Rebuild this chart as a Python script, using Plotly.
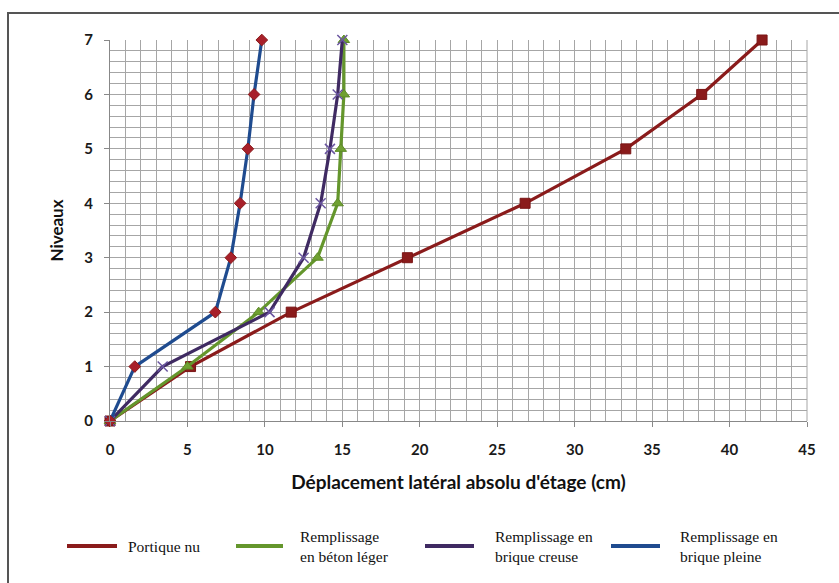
import plotly.graph_objects as go

# Storey levels and absolute lateral displacement (cm) per structural variant
niveaux = [0, 1, 2, 3, 4, 5, 6, 7]
portique_nu = [0, 5.2, 11.7, 19.2, 26.8, 33.3, 38.2, 42.1]
beton_leger = [0, 5.0, 9.6, 13.4, 14.7, 14.9, 15.1, 15.1]
brique_creuse = [0, 3.4, 10.3, 12.5, 13.6, 14.2, 14.7, 15.0]
brique_pleine = [0, 1.6, 6.8, 7.8, 8.4, 8.9, 9.3, 9.8]

noms = ["Portique nu", "Remplissage<br>en béton léger",
        "Remplissage en<br>brique creuse", "Remplissage en<br>brique pleine"]
x_ticks = [0, 5, 10, 15, 20, 25, 30, 35, 40, 45]
y_ticks = [0, 1, 2, 3, 4, 5, 6, 7]

W, H = 839, 583
L, R, T, B = 110, 807, 40, 421


def px(xp):
    return (xp - L) / (R - L)


def py(yp):
    return (B - yp) / (B - T)


series = [
    dict(x=portique_nu, line="#8a1b1b", symbol="square", size=10,
         fill="#8a1b1b", mline="#7a1515", mw=1),
    dict(x=beton_leger, line="#64962c", symbol="triangle-up", size=10,
         fill="#6fa032", mline="#5d8a28", mw=1),
    dict(x=brique_creuse, line="#3f2a62", symbol="x-thin", size=10,
         fill="#6a55a0", mline="#6a55a0", mw=1.5),
    dict(x=brique_pleine, line="#1f4b8f", symbol="diamond", size=9,
         fill="#a8202a", mline="#8a1b1b", mw=1),
]

fig = go.Figure()
for s, nom in zip(series, noms):
    fig.add_trace(go.Scatter(
        x=s["x"], y=niveaux, mode="lines+markers", name=nom.replace("<br>", " "),
        line=dict(color=s["line"], width=3.2),
        marker=dict(symbol=s["symbol"], size=s["size"], color=s["fill"],
                    line=dict(color=s["mline"], width=s["mw"])),
        cliponaxis=False, showlegend=False,
    ))

grid = "#a6a6a6"
tick_font = dict(family="Lato", size=15, color="#1a1a1a", weight="bold")
fig.update_xaxes(
    range=[0, 45], tickvals=x_ticks, ticks="outside", ticklen=5, tickcolor="#888",
    showline=True, linecolor="#888", linewidth=1, mirror=False,
    showgrid=True, gridcolor=grid, gridwidth=1, zeroline=False,
    minor=dict(dtick=1, showgrid=True, gridcolor=grid, gridwidth=1),
    tickfont=tick_font, ticklabelstandoff=10,
    title=dict(text="Déplacement latéral absolu d'étage (cm)", standoff=18,
               font=dict(family="Lato", size=19, color="#111", weight="bold")),
)
fig.update_yaxes(
    range=[0, 7], tickvals=y_ticks, ticks="outside", ticklen=5, tickcolor="#888",
    showline=True, linecolor="#888", linewidth=1,
    showgrid=True, gridcolor=grid, gridwidth=1, zeroline=False,
    minor=dict(dtick=0.2, showgrid=True, gridcolor=grid, gridwidth=1),
    tickfont=tick_font, ticklabelstandoff=8,
    title=dict(text="Niveaux", standoff=16,
               font=dict(family="Lato", size=17, color="#111", weight="bold")),
)

shapes = [
    # outer chart frame
    dict(type="rect", xref="paper", yref="paper",
         x0=px(8), x1=px(900), y0=py(700), y1=py(13),
         line=dict(color="#555", width=2), layer="below"),
    # right border of the plot area
    dict(type="line", xref="paper", yref="paper", x0=1, x1=1, y0=0, y1=1,
         line=dict(color=grid, width=1)),
]
annotations = []

legend_items = [
    (67, 117, 126, series[0]["line"], noms[0]),
    (236, 283, 298, series[1]["line"], noms[1]),
    (425, 474, 493, series[2]["line"], noms[2]),
    (611, 660, 678, series[3]["line"], noms[3]),
]
ly = 546
for x0, x1, xt, col, nom in legend_items:
    shapes.append(dict(type="line", xref="paper", yref="paper",
                       x0=px(x0), x1=px(x1), y0=py(ly), y1=py(ly),
                       line=dict(color=col, width=4)))
    annotations.append(dict(xref="paper", yref="paper", x=px(xt), y=py(ly),
                            text=nom, showarrow=False, xanchor="left",
                            yanchor="middle", align="left",
                            font=dict(family="Liberation Serif", size=15.5,
                                      color="#111")))

fig.update_layout(
    width=W, height=H,
    margin=dict(l=L, r=W - R, t=T, b=H - B, pad=0),
    paper_bgcolor="white", plot_bgcolor="white",
    shapes=shapes, annotations=annotations, showlegend=False,
)

fig.write_html("out.html")
